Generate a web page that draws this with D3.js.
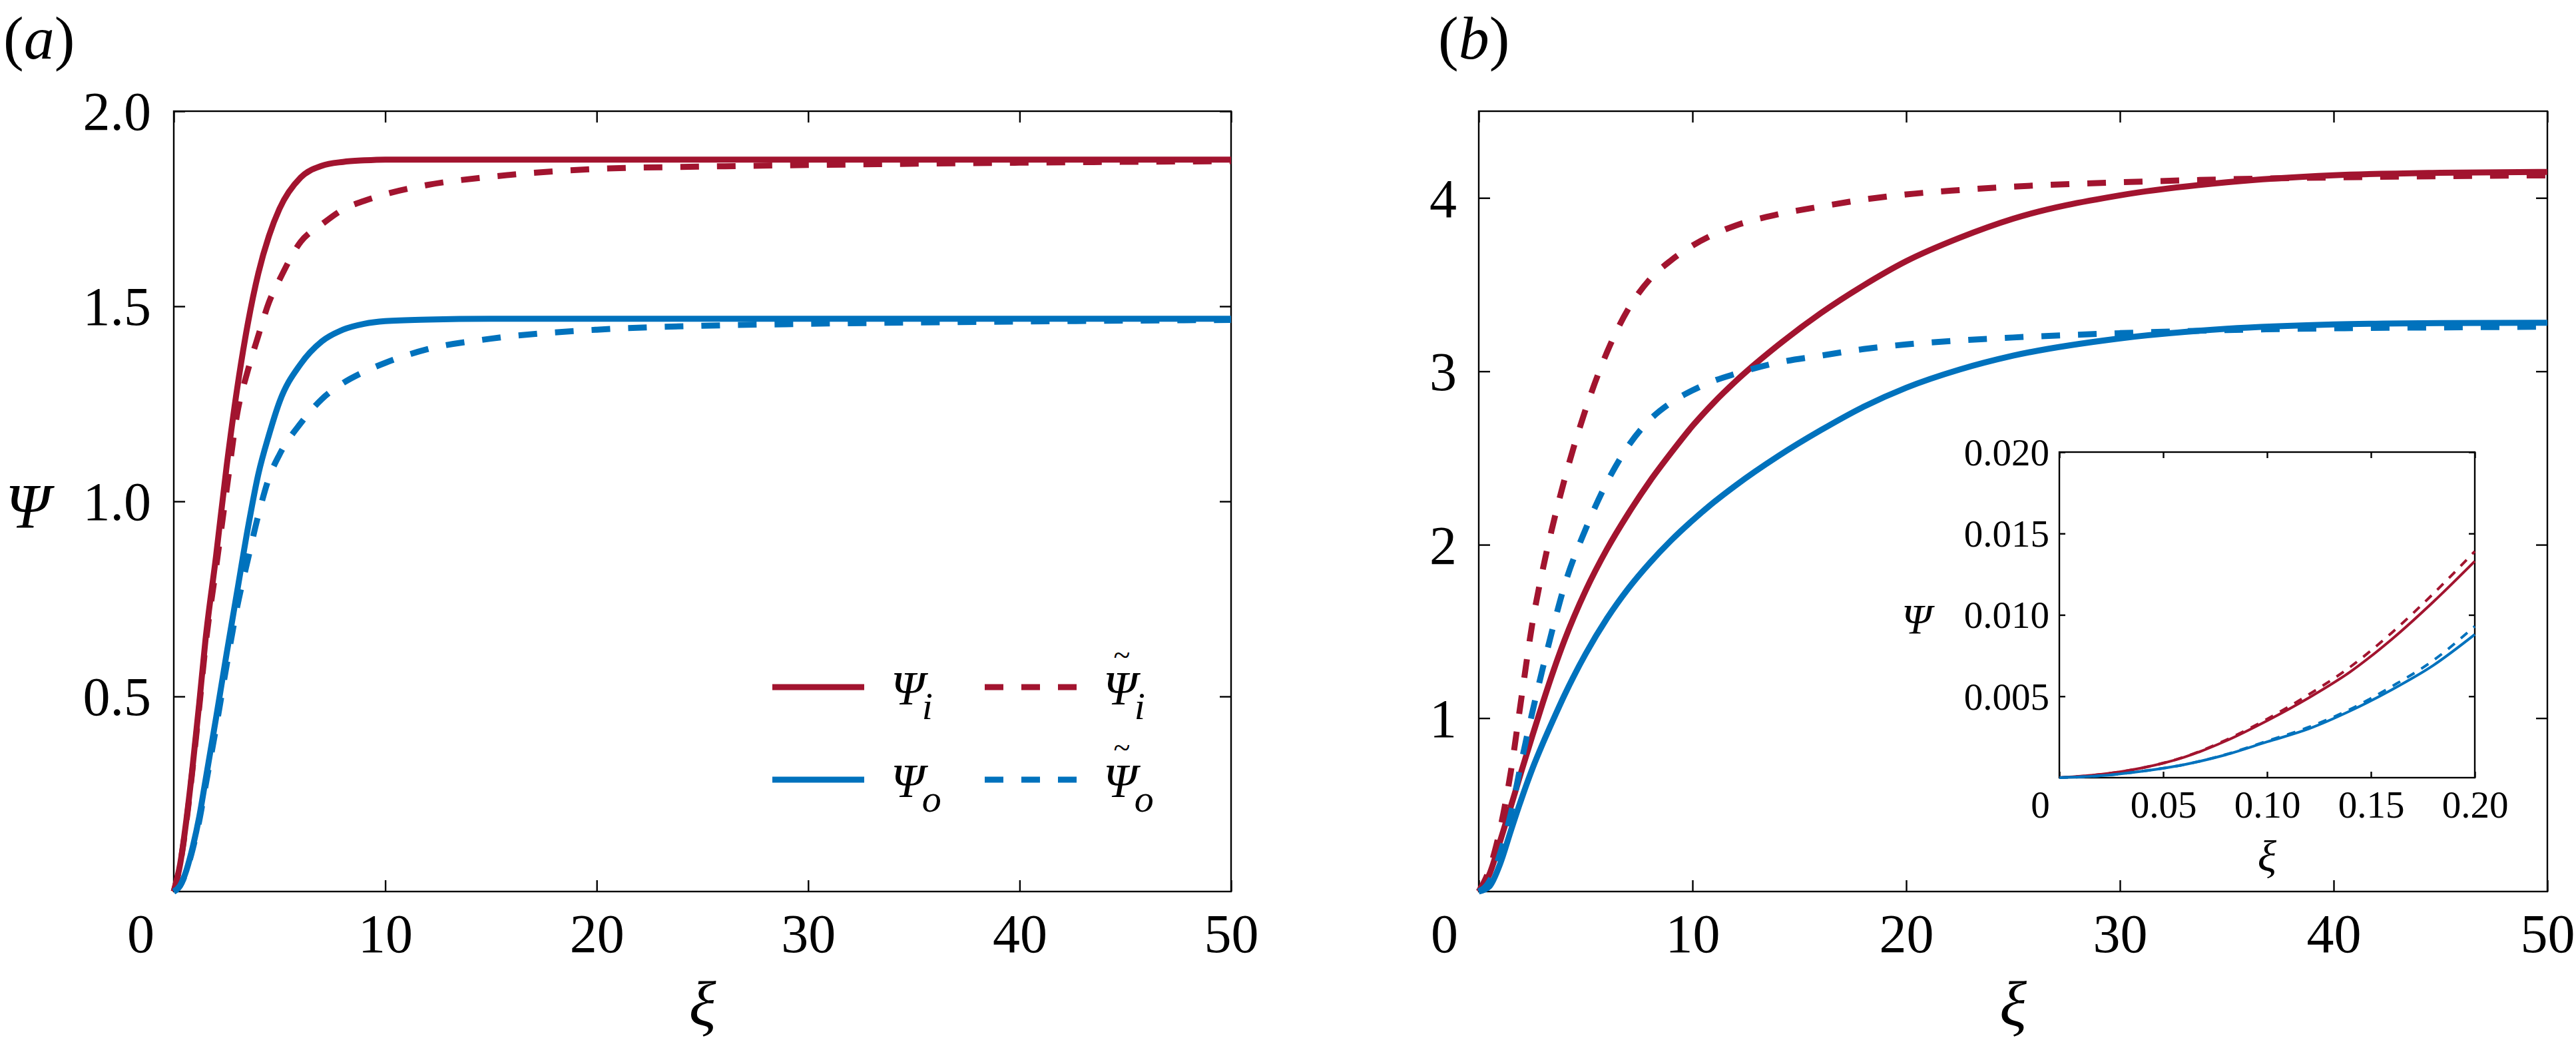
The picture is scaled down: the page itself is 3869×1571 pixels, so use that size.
<!DOCTYPE html>
<html>
<head>
<meta charset="utf-8">
<script src="https://cdn.jsdelivr.net/npm/d3@7"></script>
<style>
  body { margin: 0; background: #fff; }
  svg { display: block; background: #fff; }
  svg text { font-family: "Liberation Serif", "Times New Roman", "DejaVu Serif", serif; fill: #000; }
</style>
</head>
<body>
<svg id="chart" width="3869" height="1571"></svg>
<script>
// values

// panel (a)
var xiA = [0, 0.3, 0.6, 0.9, 1.2, 1.5, 2, 2.5, 3, 3.5, 4, 4.5, 5, 6, 7, 8, 9, 10, 12, 15, 20, 25, 30, 40, 50];
var psiInA = [0, 0.07, 0.185, 0.325, 0.48, 0.645, 0.86, 1.09, 1.29, 1.455, 1.585, 1.68, 1.75, 1.83, 1.86, 1.87, 1.874, 1.876, 1.876, 1.876, 1.876, 1.876, 1.876, 1.876, 1.876];
var psiInTildeA = [0, 0.07, 0.18, 0.32, 0.47, 0.63, 0.83, 1.03, 1.225, 1.335, 1.425, 1.51, 1.568, 1.665, 1.71, 1.748, 1.77, 1.787, 1.811, 1.832, 1.852, 1.858, 1.862, 1.868, 1.872];
var psiOutA = [0, 0.015, 0.055, 0.115, 0.19, 0.285, 0.445, 0.61, 0.77, 0.93, 1.07, 1.17, 1.255, 1.352, 1.41, 1.44, 1.455, 1.462, 1.466, 1.468, 1.468, 1.468, 1.468, 1.468, 1.468];
var psiOutTildeA = [0, 0.015, 0.053, 0.11, 0.18, 0.27, 0.42, 0.58, 0.73, 0.85, 0.965, 1.06, 1.12, 1.2, 1.262, 1.303, 1.332, 1.355, 1.39, 1.417, 1.44, 1.45, 1.455, 1.461, 1.465];

// panel (b)
var xiB = [0, 0.5, 1, 1.5, 2, 2.5, 3, 3.5, 4, 5, 6, 7, 8, 9, 10, 11, 12, 14, 16, 18, 20, 22.5, 25, 30, 35, 40, 45, 50];
var psiInB = [0, 0.1, 0.29, 0.49, 0.695, 0.895, 1.09, 1.275, 1.445, 1.735, 1.975, 2.18, 2.365, 2.53, 2.685, 2.82, 2.94, 3.15, 3.335, 3.495, 3.635, 3.77, 3.88, 4.015, 4.09, 4.13, 4.145, 4.15];
var psiInTildeB = [0, 0.13, 0.36, 0.69, 1.12, 1.54, 1.86, 2.13, 2.37, 2.78, 3.11, 3.36, 3.53, 3.64, 3.725, 3.79, 3.84, 3.905, 3.95, 3.99, 4.02, 4.045, 4.065, 4.09, 4.107, 4.118, 4.125, 4.13];
var psiOutB = [0, 0.03, 0.16, 0.35, 0.535, 0.705, 0.855, 0.995, 1.13, 1.37, 1.575, 1.748, 1.895, 2.025, 2.14, 2.245, 2.34, 2.51, 2.66, 2.795, 2.905, 3.01, 3.09, 3.19, 3.245, 3.27, 3.278, 3.28];
var psiOutTildeB = [0, 0.06, 0.22, 0.45, 0.75, 1.03, 1.29, 1.535, 1.76, 2.09, 2.36, 2.57, 2.72, 2.82, 2.89, 2.945, 2.985, 3.05, 3.09, 3.128, 3.155, 3.178, 3.195, 3.22, 3.238, 3.248, 3.253, 3.257];

// inset of (b)
var xiC = [0, 0.02, 0.04, 0.06, 0.08, 0.10, 0.12, 0.14, 0.16, 0.18, 0.20];
var psiInC = [0, 0.0002, 0.0006, 0.00125, 0.00225, 0.0035, 0.0049, 0.0065, 0.0085, 0.0108, 0.0133];
var psiInTildeC = [0, 0.0002, 0.0006, 0.00127, 0.0023, 0.0036, 0.0051, 0.0068, 0.0089, 0.0113, 0.0139];
var psiOutC = [0, 0.00012, 0.0004, 0.0008, 0.0014, 0.0022, 0.003, 0.0041, 0.0054, 0.0069, 0.0088];
var psiOutTildeC = [0, 0.00012, 0.0004, 0.0008, 0.00142, 0.00225, 0.0031, 0.0042, 0.0056, 0.0072, 0.0093];

// ticks
var ticksX = [0, 10, 20, 30, 40, 50];
var ticksYA = [0.5, 1.0, 1.5, 2.0];
var ticksYB = [1, 2, 3, 4];
var ticksXC = [0, 0.05, 0.10, 0.15, 0.20];
var ticksYC = [0.005, 0.010, 0.015, 0.020];

// legend: subscript and tilde flag per entry
var legendSub = ["i", "i", "o", "o"];
var legendTilde = [false, true, false, true];

/////

var Config = {
  TickFont: 82,
  InsetFont: 57,
  TickLen: 17,
  InsetTickLen: 9,
  FrameStroke: 2.4,
  CurveWidth: 9,
  InsetCurveWidth: 4,
  Dash: "28 27",
  InsetDash: "13 12",
  Red: "#A2142F",
  Blue: "#0072BD",
  PanelA: { left: 261, right: 1849, top: 167, bottom: 1339 },
  PanelB: { left: 2221, right: 3826, top: 167, bottom: 1339 },
  Inset: { left: 3093, right: 3717, top: 679, bottom: 1168 },
  LegendX: [1160, 1479],
  LegendY: [1032, 1171],
  LegendLine: 138,
  LegendTextGap: 40,
  LegendFont: 72,
  LegendSubFont: 58,
  AxisTitleFont: 95,
  AxisTitleY: 1540,
};

var svg = d3.select("#chart");

function drawFrame(g, x, y, o) {
  var x0 = x.range()[0], x1 = x.range()[1];
  var y0 = y.range()[0], y1 = y.range()[1];

  g.append("rect")
    .attr("x", x0).attr("y", y1)
    .attr("width", x1 - x0).attr("height", y0 - y1)
    .attr("fill", "#fff")
    .attr("stroke", "#000")
    .attr("stroke-width", Config.FrameStroke);

  var bottom = g.append("g").attr("transform", "translate(0," + y0 + ")")
    .call(d3.axisBottom(x).tickValues(o.xTicks).tickFormat(o.xFmt).tickSizeInner(-o.tick).tickSizeOuter(0));
  var top = g.append("g").attr("transform", "translate(0," + y1 + ")")
    .call(d3.axisTop(x).tickValues(o.xTicks).tickFormat("").tickSizeInner(-o.tick).tickSizeOuter(0));
  var left = g.append("g").attr("transform", "translate(" + x0 + ",0)")
    .call(d3.axisLeft(y).tickValues(o.yTicks).tickFormat(o.yFmt).tickSizeInner(-o.tick).tickSizeOuter(0));
  var right = g.append("g").attr("transform", "translate(" + x1 + ",0)")
    .call(d3.axisRight(y).tickValues(o.yTicks).tickFormat("").tickSizeInner(-o.tick).tickSizeOuter(0));

  [bottom, top, left, right].forEach(function (a) {
    a.attr("font-family", null).attr("font-size", o.font);
    a.select(".domain").remove();
    a.selectAll(".tick line").attr("stroke", "#000").attr("stroke-width", Config.FrameStroke);
    a.selectAll(".tick text").attr("fill", "#000");
  });

  bottom.selectAll(".tick text").attr("y", o.xLabelY).attr("dy", null);
  // the zero sits left of the corner
  bottom.selectAll(".tick").filter(function (d) { return d === 0; })
    .select("text").attr("x", o.zeroShift);
  left.selectAll(".tick text").attr("x", -o.yLabelGap).attr("dy", "0.34em");
}

function drawSeries(g, x, y, xs, series, width, dash) {
  var line = d3.line()
    .x(function (d, i) { return x(xs[i]); })
    .y(function (d) { return y(d); })
    .curve(d3.curveMonotoneX);

  series.forEach(function (s) {
    g.append("path")
      .attr("d", line(s.values))
      .attr("fill", "none")
      .attr("stroke", s.color)
      .attr("stroke-width", width)
      .attr("stroke-dasharray", s.dashed ? dash : null);
  });
}

// Psi with optional tilde above and a subscript, all in one text element
function psiLabel(g, px, py, sub, tilde, size, subSize) {
  var t = g.append("text")
    .attr("x", px).attr("y", py)
    .attr("font-style", "italic")
    .attr("font-size", size);
  var psi = t.append("tspan").text("Ψ");
  var wPsi = psi.node().getComputedTextLength();
  var lift = 0;
  if (tilde) {
    var tl = t.append("tspan")
      .attr("font-size", size * 0.64)
      .attr("font-style", "normal")
      .text("~");
    var wT = tl.node().getComputedTextLength();
    lift = size * 0.82;
    tl.attr("x", px + wPsi * 0.55 - wT / 2).attr("dy", -lift);
  }
  if (sub) {
    t.append("tspan")
      .attr("x", px + wPsi - 4)
      .attr("dy", lift + size * 0.3)
      .attr("font-size", subSize)
      .text(sub);
  }
}

function panelLabel(g, px, letter) {
  var t = g.append("text")
    .attr("x", px).attr("y", 88)
    .attr("font-size", 92);
  t.append("tspan").text("(");
  t.append("tspan").attr("font-style", "italic").text(letter);
  t.append("tspan").text(")");
}

// ---------- panel (a) ----------
var A = Config.PanelA;
var xA = d3.scaleLinear().domain([0, 50]).range([A.left, A.right]);
var yA = d3.scaleLinear().domain([0, 2.0]).range([A.bottom, A.top]);
var gA = svg.append("g");

drawFrame(gA, xA, yA, {
  xTicks: ticksX, yTicks: ticksYA,
  xFmt: d3.format("d"), yFmt: d3.format(".1f"),
  font: Config.TickFont, tick: Config.TickLen,
  xLabelY: 91, yLabelGap: 34, zeroShift: -50
});

drawSeries(gA, xA, yA, xiA, [
  { values: psiInA, color: Config.Red, dashed: false },
  { values: psiInTildeA, color: Config.Red, dashed: true },
  { values: psiOutA, color: Config.Blue, dashed: false },
  { values: psiOutTildeA, color: Config.Blue, dashed: true }
], Config.CurveWidth, Config.Dash);

// legend
legendSub.forEach(function (sub, k) {
  var col = k % 2, row = Math.floor(k / 2);
  var lx = Config.LegendX[col], ly = Config.LegendY[row];
  gA.append("line")
    .attr("x1", lx).attr("x2", lx + Config.LegendLine)
    .attr("y1", ly).attr("y2", ly)
    .attr("stroke", row === 0 ? Config.Red : Config.Blue)
    .attr("stroke-width", Config.CurveWidth)
    .attr("stroke-dasharray", legendTilde[k] ? Config.Dash : null);
  psiLabel(gA, lx + Config.LegendLine + Config.LegendTextGap, ly + 26, sub, legendTilde[k],
    Config.LegendFont, Config.LegendSubFont);
});

gA.append("text")
  .attr("x", (A.left + A.right) / 2).attr("y", Config.AxisTitleY)
  .attr("text-anchor", "middle")
  .attr("font-style", "italic").attr("font-size", Config.AxisTitleFont)
  .text("ξ");

gA.append("text")
  .attr("x", 8).attr("y", 793)
  .attr("font-style", "italic").attr("font-size", 95)
  .text("Ψ");

panelLabel(gA, 5, "a");

// ---------- panel (b) ----------
var B = Config.PanelB;
var xB = d3.scaleLinear().domain([0, 50]).range([B.left, B.right]);
var yB = d3.scaleLinear().domain([0, 4.5]).range([B.bottom, B.top]);
var gB = svg.append("g");

drawFrame(gB, xB, yB, {
  xTicks: ticksX, yTicks: ticksYB,
  xFmt: d3.format("d"), yFmt: d3.format("d"),
  font: Config.TickFont, tick: Config.TickLen,
  xLabelY: 91, yLabelGap: 33, zeroShift: -52
});

drawSeries(gB, xB, yB, xiB, [
  { values: psiInB, color: Config.Red, dashed: false },
  { values: psiInTildeB, color: Config.Red, dashed: true },
  { values: psiOutB, color: Config.Blue, dashed: false },
  { values: psiOutTildeB, color: Config.Blue, dashed: true }
], Config.CurveWidth, Config.Dash);

gB.append("text")
  .attr("x", (B.left + B.right) / 2).attr("y", Config.AxisTitleY)
  .attr("text-anchor", "middle")
  .attr("font-style", "italic").attr("font-size", Config.AxisTitleFont)
  .text("ξ");

panelLabel(gB, 2160, "b");

// ---------- inset ----------
var C = Config.Inset;
var xC = d3.scaleLinear().domain([0, 0.2]).range([C.left, C.right]);
var yC = d3.scaleLinear().domain([0, 0.02]).range([C.bottom, C.top]);
var gC = svg.append("g");

drawFrame(gC, xC, yC, {
  xTicks: ticksXC, yTicks: ticksYC,
  xFmt: function (d) { return d === 0 ? "0" : d3.format(".2f")(d); },
  yFmt: d3.format(".3f"),
  font: Config.InsetFont, tick: Config.InsetTickLen,
  xLabelY: 60, yLabelGap: 15, zeroShift: -29
});

drawSeries(gC, xC, yC, xiC, [
  { values: psiInC, color: Config.Red, dashed: false },
  { values: psiInTildeC, color: Config.Red, dashed: true },
  { values: psiOutC, color: Config.Blue, dashed: false },
  { values: psiOutTildeC, color: Config.Blue, dashed: true }
], Config.InsetCurveWidth, Config.InsetDash);

gC.append("text")
  .attr("x", (C.left + C.right) / 2).attr("y", 1308)
  .attr("text-anchor", "middle")
  .attr("font-style", "italic").attr("font-size", 66)
  .text("ξ");

gC.append("text")
  .attr("x", 2856).attr("y", 952)
  .attr("font-style", "italic").attr("font-size", 64)
  .text("Ψ");
</script>
</body>
</html>
